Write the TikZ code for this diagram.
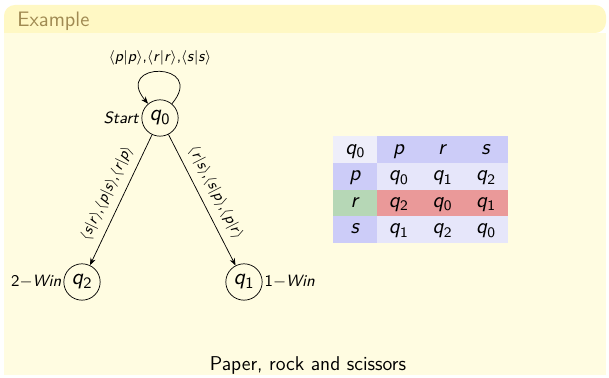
\documentclass[tikz,border=0pt]{standalone}
\usetikzlibrary{arrows.meta, positioning, matrix}
\renewcommand{\familydefault}{\sfdefault}
\definecolor{blocktitle}{RGB}{255, 248, 196}
\definecolor{blockbody}{RGB}{255, 252, 225}
\definecolor{blocktext}{RGB}{160, 138, 82}
\definecolor{tabcorner}{RGB}{238, 238, 250}
\definecolor{tabhead}{RGB}{204, 204, 248}
\definecolor{tabbody}{RGB}{230, 230, 250}
\definecolor{tablose}{RGB}{234, 153, 153}
\definecolor{tabdraw}{RGB}{182, 215, 182}
% sans italic letters, upright sans subscripts
\newcommand{\qst}[1]{\textit{q}\textsubscript{#1}}
\newcommand{\mv}[2]{$\langle$\textit{#1}$|$\textit{#2}$\rangle$}
\newcommand{\iv}[1]{\textit{#1}}
\tikzset{
    state/.style={circle, draw, thin, minimum size=20pt, inner sep=0pt, font=\fontsize{12.5}{14}\selectfont},
    trans/.style={-{Stealth[length=4pt, width=3pt]}, thin},
    lbl/.style={font=\fontsize{8.5}{10}\selectfont},
    side/.style={font=\fontsize{9}{11}\selectfont, inner sep=1pt}
}
\begin{document}
\begin{tikzpicture}[
    x=0.55pt, y=0.55pt,
    cell/.style={minimum width=24pt, minimum height=14.6pt, text height=7.5pt, text depth=2.5pt, inner sep=0pt, outer sep=0pt, anchor=center, fill=tabbody, font=\fontsize{12}{14}\selectfont}
]
    \useasboundingbox[fill=white] (0,0) rectangle (609,378);

    % Example block
    \fill[blockbody] (4,3) rectangle (606,345);
    \fill[blocktitle, rounded corners=6] (4,345) -- (4,373) -- (606,373) -- (606,345) [sharp corners] -- cycle;
    \node[anchor=base west, text=blocktext, font=\fontsize{11.5}{13}\selectfont] (title) at (11,351) {Example};

    % States
    \node[state, label={[side]left:\iv{Start}}] (q0) at (160,260) {\qst{0}};
    \node[state, on grid, below left=90.2pt and 42.9pt of q0, label={[side]left:2$-$\iv{Win}}] (q2) {\qst{2}};
    \node[state, on grid, below right=90.2pt and 46.2pt of q0, label={[side]right:1$-$\iv{Win}}] (q1) {\qst{1}};

    % Transitions
    \path (q0) edge[trans, out=50, in=130, looseness=6] node[lbl, above] {\mv{p}{p},\mv{r}{r},\mv{s}{s}} (q0);
    \draw[trans] (q0) -- node[lbl, above=1pt, sloped] {\mv{s}{r},\mv{p}{s},\mv{r}{p}} (q2);
    \draw[trans] (q0) -- node[lbl, above=1pt, sloped] {\mv{r}{s},\mv{s}{p},\mv{p}{r}} (q1);

    % Outcome table
    \matrix (tab) [matrix of nodes, anchor=north west, nodes={cell}, row sep=0pt, column sep=0pt,
        column 1/.style={nodes={fill=tabhead}},
        row 1/.style={nodes={fill=tabhead}},
        row 3/.style={nodes={fill=tablose}},
        row 1 column 1/.style={nodes={fill=tabcorner}},
        row 3 column 1/.style={nodes={fill=tabdraw}}] at (327,248) {
        \qst{0} & \iv{p} & \iv{r} & \iv{s} \\
        \iv{p} & \qst{0} & \qst{1} & \qst{2} \\
        \iv{r} & \qst{2} & \qst{0} & \qst{1} \\
        \iv{s} & \qst{1} & \qst{2} & \qst{0} \\
    };

    \node[font=\fontsize{11}{13}\selectfont] (caption) at (308,12) {Paper, rock and scissors};
\end{tikzpicture}
\end{document}
